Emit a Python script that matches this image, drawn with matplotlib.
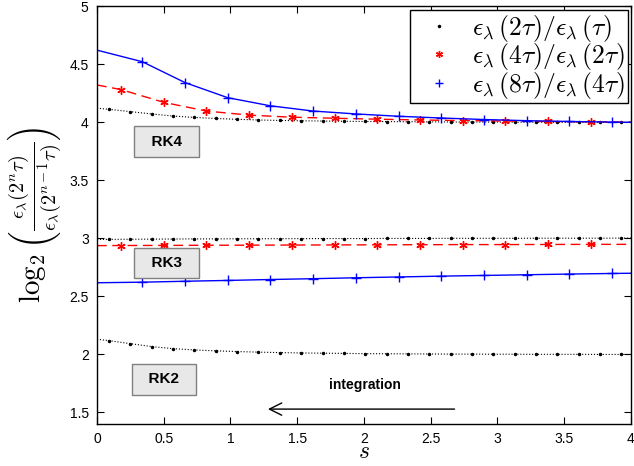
import numpy as np
import matplotlib
matplotlib.use("Agg")
import matplotlib.pyplot as plt

plt.rcParams['font.family'] = ['Liberation Sans', 'DejaVu Sans']
plt.rcParams['mathtext.fontset'] = 'cm'

# ---- data ----
# black (dotted, '.') sample positions
s_blk = [0.0, 0.09, 0.25, 0.41, 0.57, 0.73, 0.89, 1.05, 1.21, 1.37, 1.53, 1.69, 1.85,
         2.01, 2.17, 2.33, 2.49, 2.65, 2.81, 2.97, 3.13, 3.29, 3.45, 3.61, 3.77, 3.93, 4.0]
# red (dashed, '*') sample positions
s_red = [0.0, 0.18, 0.50, 0.82, 1.14, 1.46, 1.78, 2.10, 2.42, 2.74, 3.06, 3.38, 3.70, 4.0]
# blue (solid, '+') sample positions
s_blu = [0.0, 0.34, 0.66, 0.98, 1.30, 1.62, 1.94, 2.26, 2.58, 2.90, 3.22, 3.54, 3.86, 4.0]

rk4_blk = [4.12, 4.11, 4.09, 4.07, 4.052, 4.04, 4.031, 4.024, 4.018, 4.014, 4.011, 4.009, 4.007,
           4.005, 4.004, 4.003, 4.002, 4.001, 4.0, 4.0, 3.999, 3.999, 3.998, 3.998, 3.997, 3.997, 3.997]
rk4_red = [4.32, 4.28, 4.17, 4.095, 4.06, 4.042, 4.033, 4.025, 4.018, 4.013, 4.009, 4.005, 4.002, 4.0]
rk4_blu = [4.62, 4.52, 4.34, 4.21, 4.14, 4.095, 4.07, 4.05, 4.035, 4.022, 4.012, 4.005, 4.0, 3.998]

rk3_blk = [2.988, 2.989, 2.99, 2.991, 2.992, 2.993, 2.993, 2.994, 2.994, 2.995, 2.995, 2.996, 2.996,
           2.996, 2.997, 2.997, 2.997, 2.998, 2.998, 2.998, 2.998, 2.999, 2.999, 2.999, 2.999, 3.0, 3.0]
rk3_red = [2.935, 2.936, 2.937, 2.938, 2.939, 2.94, 2.941, 2.942, 2.943, 2.944, 2.944, 2.945, 2.946, 2.946]
rk3_blu = [2.615, 2.62, 2.628, 2.635, 2.643, 2.65, 2.658, 2.665, 2.672, 2.678, 2.684, 2.69, 2.695, 2.697]

rk2_blk = [2.128, 2.116, 2.09, 2.065, 2.047, 2.036, 2.028, 2.022, 2.017, 2.013, 2.01, 2.008, 2.006,
           2.004, 2.003, 2.002, 2.001, 2.0, 2.0, 1.999, 1.999, 1.998, 1.998, 1.998, 1.997, 1.997, 1.997]

legend_labels = [r'$\epsilon_\lambda\,(2\tau)/\epsilon_\lambda\,(\tau)$',
                 r'$\epsilon_\lambda\,(4\tau)/\epsilon_\lambda\,(2\tau)$',
                 r'$\epsilon_\lambda\,(8\tau)/\epsilon_\lambda\,(4\tau)$']
xticks = [0, 0.5, 1, 1.5, 2, 2.5, 3, 3.5, 4]
xticklabels = ['0', '0.5', '1', '1.5', '2', '2.5', '3', '3.5', '4']
yticks = [1.5, 2, 2.5, 3, 3.5, 4, 4.5, 5]
yticklabels = ['1.5', '2', '2.5', '3', '3.5', '4', '4.5', '5']

fig = plt.figure(figsize=(6.34, 4.66), dpi=100)
ax = fig.add_axes([0.153, 0.090, 0.842, 0.897])

ASTER = (6, 2, 0)
mk_every = slice(1, -1)
for yb in (rk4_blk, rk3_blk, rk2_blk):
    ax.plot(s_blk, yb, color='black', ls=':', lw=0.8, marker='.', ms=3,
            markevery=mk_every)
for yr in (rk4_red, rk3_red):
    ax.plot(s_red, yr, color='red', ls=(0, (7, 4)), lw=1.0, marker=ASTER, ms=6, mew=1.0,
            markevery=mk_every)
for yl in (rk4_blu, rk3_blu):
    ax.plot(s_blu, yl, color='blue', ls='-', lw=1.0, marker='+', ms=7,
            markevery=mk_every)

# legend (markers only)
h1 = ax.plot([], [], ls='none', marker='.', ms=3, color='black')[0]
h2 = ax.plot([], [], ls='none', marker=ASTER, ms=5, mew=1.0, color='red')[0]
h3 = ax.plot([], [], ls='none', marker='+', ms=6, color='blue')[0]
leg = ax.legend([h1, h2, h3], legend_labels, loc='upper right', fontsize=18.5,
                frameon=True, fancybox=False, edgecolor='black', framealpha=1,
                borderpad=0.1, labelspacing=-0.1, handlelength=2.0,
                handletextpad=0.3, borderaxespad=0.0, bbox_to_anchor=(0.994, 0.99))
leg.get_frame().set_linewidth(1.0)

ax.set_xlim(0, 4)
ax.set_ylim(1.397, 5)
ax.set_xticks(xticks)
ax.set_xticklabels(xticklabels)
ax.set_yticks(yticks)
ax.set_yticklabels(yticklabels)
ax.tick_params(direction='in', top=True, right=True, labelsize=10, length=5, pad=6)
for sp in ax.spines.values():
    sp.set_linewidth(1.0)

ax.set_xlabel(r'$s$', fontsize=17, labelpad=-4)
ax.set_ylabel(r'$\log_2\left(\frac{\epsilon_\lambda(2^n\tau)}{\epsilon_\lambda(2^{n-1}\tau)}\right)$',
              fontsize=21, labelpad=4)

box = dict(boxstyle='square,pad=0.55', facecolor='#e8e8e8', edgecolor='#808080', lw=1.0)
for lab, xx, yy in (('RK4', 0.52, 3.83), ('RK3', 0.52, 2.785), ('RK2', 0.50, 1.784)):
    ax.text(xx, yy, '  ' + lab + '  ', fontsize=11, fontweight='bold', ha='center', va='center', bbox=box)

ax.text(2.01, 1.733, 'integration', fontsize=10, fontweight='bold', ha='center', va='center')
ax.annotate('', xy=(1.26, 1.526), xytext=(2.70, 1.526),
            arrowprops=dict(arrowstyle='->', lw=1.0, color='black', mutation_scale=22))

fig.savefig('out.png', dpi=100)
